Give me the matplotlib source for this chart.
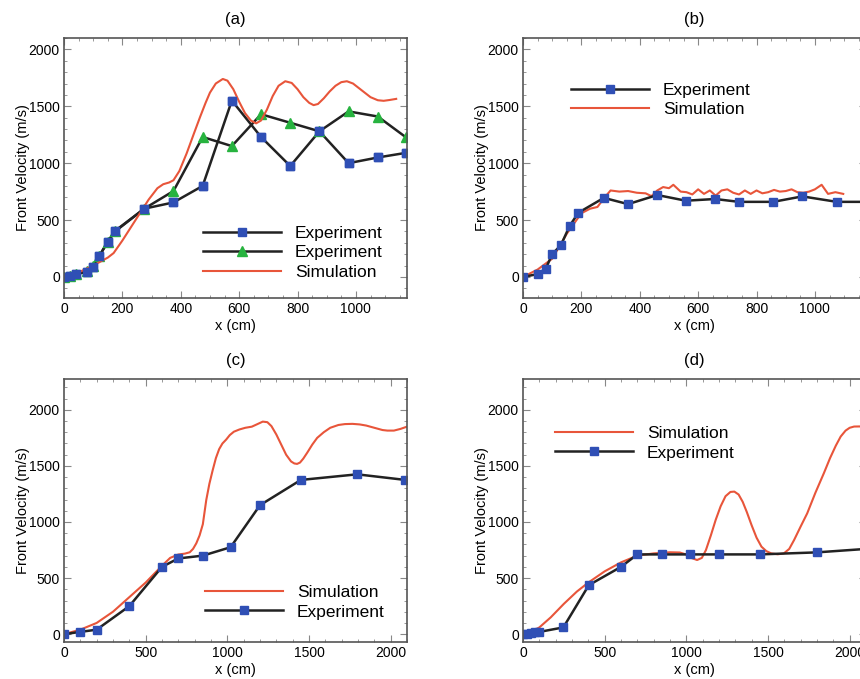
import matplotlib.pyplot as plt
from matplotlib.ticker import MultipleLocator

plt.rcParams['font.family'] = ['Liberation Sans', 'DejaVu Sans']

# (a)
a_exp1_x = [0, 20, 40, 80, 100, 120, 150, 175, 275, 375, 475, 575, 675, 775, 875, 975, 1075, 1170]
a_exp1_y = [0, 10, 25, 45, 90, 180, 310, 400, 600, 655, 800, 1550, 1230, 975, 1280, 1000, 1050, 1090]
a_exp2_x = [0, 20, 40, 80, 100, 120, 150, 175, 275, 375, 475, 575, 675, 775, 875, 975, 1075, 1170]
a_exp2_y = [0, 10, 25, 50, 100, 180, 310, 405, 600, 755, 1230, 1150, 1430, 1355, 1280, 1455, 1410, 1230]
a_sim_x = [0, 50, 100, 150, 170, 200, 230, 260, 290, 320, 340, 360, 375, 395, 420, 445, 466, 485,
           500, 520, 544, 560, 580, 600, 620, 640, 658, 675, 695, 715, 735, 758, 780, 800, 820,
           840, 855, 870, 890, 910, 930, 950, 969, 990, 1010, 1030, 1050, 1075, 1095, 1115, 1138]
a_sim_y = [0, 40, 100, 170, 210, 320, 440, 560, 680, 780, 815, 830, 850, 930, 1085, 1260, 1405, 1530,
           1620, 1700, 1740, 1725, 1650, 1540, 1440, 1375, 1350, 1375, 1470, 1590, 1680, 1720, 1705,
           1650, 1580, 1530, 1510, 1520, 1570, 1630, 1680, 1712, 1720, 1700, 1660, 1620, 1580, 1553,
           1548, 1555, 1565]

# (b)
b_exp_x = [0, 50, 78, 100, 130, 160, 190, 277, 360, 460, 558, 658, 740, 857, 957, 1075, 1175]
b_exp_y = [0, 25, 73, 200, 280, 450, 565, 695, 640, 720, 670, 685, 660, 660, 708, 660, 660]
b_sim_x = [0, 50, 100, 150, 200, 230, 255, 280, 300, 330, 360, 390, 420, 440, 460, 480, 500, 515,
           540, 560, 580, 600, 620, 640, 660, 680, 700, 720, 740, 760, 780, 800, 820, 840, 860,
           880, 900, 920, 940, 960, 980, 1000, 1023, 1045, 1070, 1097]
b_sim_y = [0, 65, 160, 380, 560, 600, 615, 700, 760, 750, 755, 740, 735, 710, 760, 790, 780, 810,
           750, 745, 725, 770, 730, 760, 715, 760, 770, 740, 725, 760, 730, 760, 735, 745, 765,
           750, 755, 770, 745, 740, 750, 770, 810, 730, 745, 730]

# (c)
c_exp_x = [0, 100, 200, 400, 600, 700, 850, 1020, 1200, 1450, 1795, 2090]
c_exp_y = [0, 20, 40, 250, 600, 675, 700, 775, 1150, 1375, 1425, 1375]
c_sim_x = [0, 100, 200, 300, 400, 500, 600, 650, 700, 740, 770, 790, 810, 830, 850, 871, 890, 910,
           930, 950, 970, 993, 1015, 1040, 1074, 1110, 1150, 1180, 1217, 1245, 1270, 1300, 1330,
           1360, 1390, 1410, 1427, 1445, 1465, 1490, 1520, 1550, 1590, 1630, 1680, 1720, 1766,
           1810, 1850, 1900, 1950, 1980, 2020, 2060, 2100]
c_sim_y = [0, 40, 100, 200, 330, 460, 610, 680, 710, 718, 730, 760, 810, 880, 980, 1196, 1340, 1460,
           1570, 1650, 1700, 1735, 1775, 1805, 1825, 1840, 1850, 1870, 1895, 1890, 1855, 1780, 1690,
           1600, 1540, 1522, 1518, 1530, 1565, 1620, 1690, 1750, 1800, 1840, 1865, 1873, 1875,
           1870, 1860, 1840, 1820, 1815, 1815, 1830, 1850]

# (d)
d_exp_x = [0, 25, 50, 75, 100, 247, 403, 600, 700, 853, 1025, 1200, 1448, 1798, 2100]
d_exp_y = [0, 5, 10, 15, 20, 60, 437, 600, 711, 711, 711, 711, 711, 729, 760]
d_sim_x = [0, 50, 100, 170, 250, 330, 400, 500, 600, 700, 800, 900, 960, 1000, 1030, 1066, 1095,
           1120, 1150, 1180, 1210, 1240, 1270, 1294, 1320, 1345, 1370, 1400, 1430, 1460, 1490,
           1520, 1560, 1597, 1630, 1660, 1700, 1740, 1790, 1842, 1880, 1915, 1945, 1975, 2000,
           2027, 2060, 2100]
d_sim_y = [0, 20, 60, 150, 270, 380, 460, 560, 640, 700, 720, 730, 728, 710, 680, 661, 680,
           750, 880, 1020, 1140, 1230, 1268, 1271, 1245, 1180, 1090, 970, 860, 780, 740,
           720, 712, 720, 760, 840, 960, 1077, 1260, 1435, 1570, 1680, 1762, 1815, 1840,
           1851, 1852, 1845]

BLUE = '#2f4fb5'
GREEN = '#27b33f'
RED = '#e8553a'

fig = plt.figure(figsize=(8.6, 6.79), dpi=100)
w = 343 / 860
axa = fig.add_axes([64 / 860, 1 - 298 / 679, w, 260 / 679])
axb = fig.add_axes([523 / 860, 1 - 298 / 679, w, 260 / 679])
axc = fig.add_axes([64 / 860, 1 - 642 / 679, w, 263 / 679])
axd = fig.add_axes([523 / 860, 1 - 642 / 679, w, 263 / 679])

exp_kw = dict(color='#222222', lw=1.8, marker='s', ms=6, mfc=BLUE, mec=BLUE)
sim_kw = dict(color=RED, lw=1.5)
leg_kw = dict(frameon=False, fontsize=12.5, handlelength=4.5, labelspacing=0.25)

# panel a
l1, = axa.plot(a_exp1_x, a_exp1_y, label='Experiment', **exp_kw)
l2, = axa.plot(a_exp2_x, a_exp2_y, color='#222222', lw=1.8, marker='^', ms=7,
               mfc=GREEN, mec=GREEN, label='Experiment')
l3, = axa.plot(a_sim_x, a_sim_y, label='Simulation', **sim_kw)
axa.plot(a_exp1_x, a_exp1_y, ls='none', marker='s', ms=6, mfc=BLUE, mec=BLUE)
axa.legend(handles=[l1, l2, l3], loc='lower right', bbox_to_anchor=(0.974, 0.01), **leg_kw)

# panel b
axb.plot(b_sim_x, b_sim_y, label='Simulation', **sim_kw)
axb.plot(b_exp_x, b_exp_y, label='Experiment', **exp_kw)
h, lab = axb.get_legend_handles_labels()
axb.legend(h[::-1], lab[::-1], loc='upper left', bbox_to_anchor=(0.094, 0.888), **leg_kw)

# panel c
axc.plot(c_sim_x, c_sim_y, label='Simulation', **sim_kw)
axc.plot(c_exp_x, c_exp_y, label='Experiment', **exp_kw)
axc.legend(loc='lower right', bbox_to_anchor=(0.98, 0.026), **leg_kw)

# panel d
axd.plot(d_sim_x, d_sim_y, label='Simulation', **sim_kw)
axd.plot(d_exp_x, d_exp_y, label='Experiment', **exp_kw)
axd.legend(loc='upper left', bbox_to_anchor=(0.048, 0.881), **leg_kw)

for ax, t in zip([axa, axb], ['(a)', '(b)']):
    ax.set_xlim(0, 1175)
    ax.set_ylim(-185, 2100)
    ax.xaxis.set_major_locator(MultipleLocator(200))
    ax.xaxis.set_minor_locator(MultipleLocator(50))
    ax.set_title(t, fontsize=12, pad=10)
for ax, t in zip([axc, axd], ['(c)', '(d)']):
    ax.set_xlim(0, 2100)
    ax.set_ylim(-70, 2275)
    ax.xaxis.set_major_locator(MultipleLocator(500))
    ax.xaxis.set_minor_locator(MultipleLocator(100))
    ax.set_title(t, fontsize=12, pad=10)

for ax in [axa, axb, axc, axd]:
    ax.yaxis.set_major_locator(MultipleLocator(500))
    ax.yaxis.set_minor_locator(MultipleLocator(100))
    ax.tick_params(which='both', direction='in', top=True, right=True, labelsize=10, pad=3)
    ax.tick_params(which='major', length=5, color='#888888')
    ax.tick_params(which='minor', length=2.5, color='#888888')
    for s in ax.spines.values():
        s.set_color('#555555')
        s.set_linewidth(1.2)
    ax.set_xlabel('x (cm)', fontsize=10.5, labelpad=2)
    ax.set_ylabel('Front Velocity (m/s)', fontsize=10.5, labelpad=-1)

fig.savefig('out.png', dpi=100)
